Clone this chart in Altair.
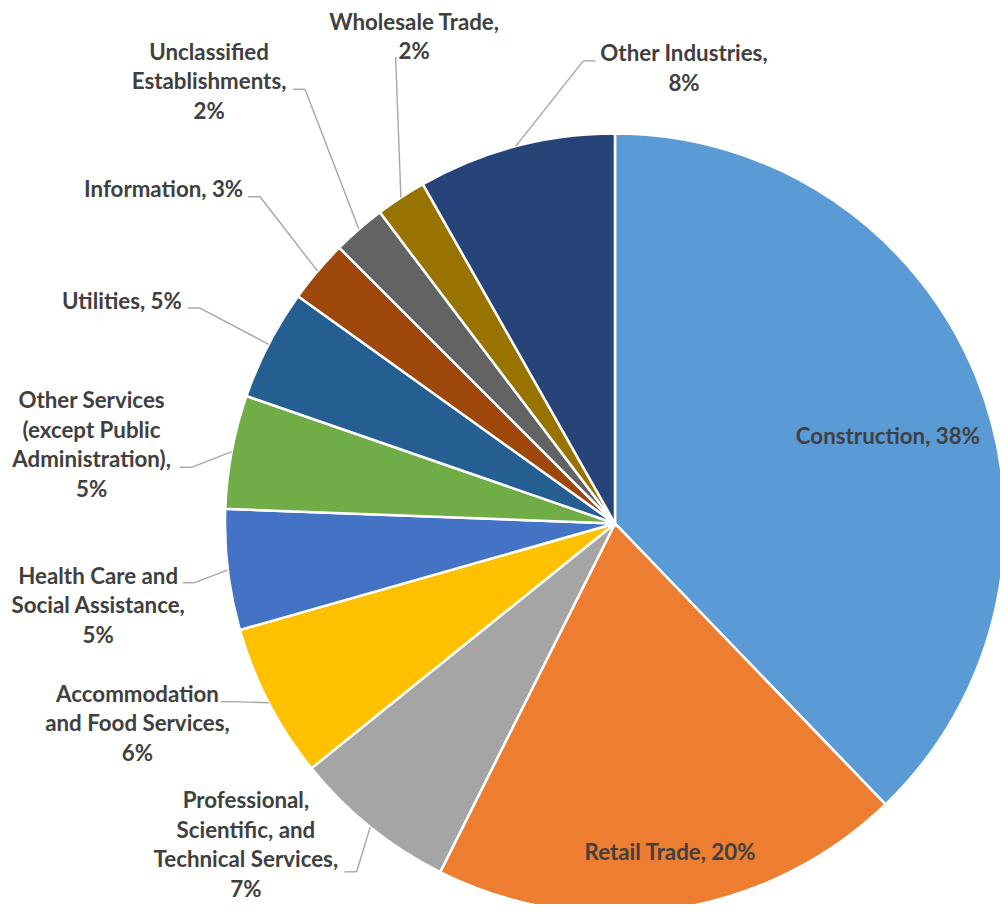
import altair as alt
import pandas as pd

# ---------------- data ----------------
categories = [
    "Construction", "Retail Trade", "Professional, Scientific, and Technical Services",
    "Accommodation and Food Services", "Health Care and Social Assistance",
    "Other Services (except Public Administration)", "Utilities", "Information",
    "Unclassified Establishments", "Wholesale Trade", "Other Industries",
]
values = [37.8, 19.6, 6.8, 6.4, 5.0, 4.7, 4.6, 2.6, 2.2, 2.1, 8.2]
colors = ["#5B9BD5", "#ED7D31", "#A5A5A5", "#FFC000", "#4472C4", "#70AD47",
          "#255E91", "#9E480E", "#636363", "#997300", "#264478"]
label_names = [
    "Construction", "Retail Trade", "Professional,\nScientific, and\nTechnical Services",
    "Accommodation\nand Food Services", "Health Care and\nSocial Assistance",
    "Other Services\n(except Public\nAdministration)", "Utilities", "Information",
    "Unclassified\nEstablishments", "Wholesale Trade", "Other Industries",
]
label_seps = [" ", " ", "\n", "\n", "\n", "\n", " ", " ", "\n", "\n", "\n"]

# ---------------- layout (label placement relative to slice mid-angle) ----------------
W, H = 992, 896
CX, CY = 607, 515.5      # pie centre in view pixels
R = 390                  # pie radius in pixels
LH = 29.5                # label line height in pixels
text_shift = [4.38, -0.84, 10.02, 4.58, -2.23, -2.14, -3.17, -3.87, -1.58, 10.83, 23.39]
text_r = [0.734, 0.857, 1.256, 1.328, 1.342, 1.357, 1.386, 1.439, 1.537, 1.348, 1.179]
elbow_shift = [0, 0, -2.31, 2.36, -1.18, -3.06, 0.08, 2.31, 5.52, 8.12, 10.84]
elbow_r = [0, 0, 1.112, 1.081, 1.088, 1.095, 1.199, 1.237, 1.368, 1.322, 1.189]
hook_dir = [0, 0, -1, -1, -1, -1, -1, -1, -1, 0, 1]
has_leader = [0, 0, 1, 1, 1, 1, 1, 1, 1, 1, 1]
HOOK = 12 / R

df = pd.DataFrame({
    "idx": list(range(len(categories))),
    "category": categories,
    "value": values,
    "name": label_names,
    "sep": label_seps,
    "tshift": text_shift,
    "tr": text_r,
    "eshift": elbow_shift,
    "er": elbow_r,
    "hdir": hook_dir,
    "lead": has_leader,
})

xs = alt.Scale(domain=[-CX / R, (W - CX) / R], range=[0, W], nice=False, zero=False)
ys = alt.Scale(domain=[-(H - CY) / R, CY / R], range=[H, 0], nice=False, zero=False)

base = (
    alt.Chart(df)
    .transform_joinaggregate(total="sum(value)")
    .transform_window(cum="sum(value)", sort=[alt.SortField("idx")], frame=[None, 0])
    .transform_calculate(
        mid="(datum.cum - datum.value / 2) / datum.total * 360",
        label="datum.name + ',' + datum.sep + format(datum.value / datum.total, '.0%')",
    )
    .transform_calculate(
        nl="length(split(datum.label, '\\n'))",
        ta="(datum.mid + datum.tshift) * PI / 180",
        ea="(datum.mid + datum.eshift) * PI / 180",
        ma="datum.mid * PI / 180",
    )
    .transform_calculate(
        lx="datum.tr * sin(datum.ta)",
        ly=f"datum.tr * cos(datum.ta) + (datum.nl - 1) / 2 * {LH / R}",
        sx="sin(datum.ma)",
        sy="cos(datum.ma)",
        ex="datum.er * sin(datum.ea)",
        ey="datum.er * cos(datum.ea)",
    )
    .transform_calculate(hx=f"datum.ex + datum.hdir * {HOOK}")
)

pie = alt.Chart(df).mark_arc(radius=R, stroke="white", strokeWidth=2.5).encode(
    theta=alt.Theta("value:Q", stack=True),
    order=alt.Order("idx:Q"),
    color=alt.Color("category:N", scale=alt.Scale(domain=categories, range=colors), legend=None),
    x=alt.XDatum(0, scale=xs, axis=None),
    y=alt.YDatum(0, scale=ys, axis=None),
)

leader = base.transform_filter("datum.lead == 1").mark_rule(color="#A6A6A6", strokeWidth=1.4).encode(
    x=alt.X("sx:Q", scale=xs, axis=None),
    y=alt.Y("sy:Q", scale=ys, axis=None),
    x2="ex:Q",
    y2="ey:Q",
)

hook = base.transform_filter("datum.hdir != 0").mark_rule(color="#A6A6A6", strokeWidth=1.4).encode(
    x=alt.X("ex:Q", scale=xs, axis=None),
    y=alt.Y("ey:Q", scale=ys, axis=None),
    x2="hx:Q",
    y2="ey:Q",
)

labels = base.mark_text(
    font="Lato", fontSize=22.3, fontWeight="bold", color="#404040",
    lineBreak="\n", lineHeight=LH, align="center", baseline="middle",
).encode(
    x=alt.X("lx:Q", scale=xs, axis=None),
    y=alt.Y("ly:Q", scale=ys, axis=None),
    text="label:N",
)

chart = (
    alt.layer(pie, leader, hook, labels)
    .properties(width=W, height=H, padding=0, autosize=alt.AutoSizeParams(type="none"))
    .configure_view(stroke=None)
)

chart.save("out.html", embed_options={"renderer": "svg", "actions": False})
